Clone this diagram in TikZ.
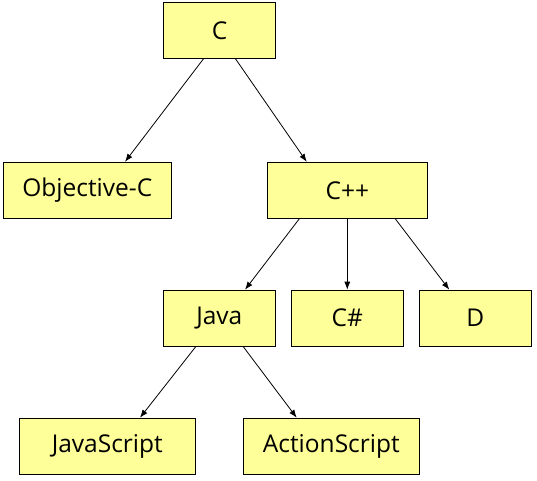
\documentclass[tikz,border=0pt]{standalone}
\usepackage{fontspec}
\setmainfont{Open Sans}
\usetikzlibrary{arrows.meta}
\begin{document}
\begin{tikzpicture}[x=1pt,y=-1pt,
  box/.style={draw=black,line width=1pt,fill=boxfill,minimum height=56pt,inner sep=0pt,font=\fontsize{24.5}{28}\selectfont},
  arr/.style={line width=0.8pt,-{Latex[length=8pt,width=6pt]}}]
\definecolor{boxfill}{HTML}{FFFF99}
\useasboundingbox (0,0) rectangle (537,480);
\node[box,minimum width=112pt] (c) at (219.5,30.3) {C};
\node[box,minimum width=168pt] (objc) at (87.3,190.3) {Objective-C};
\node[box,minimum width=160pt] (cpp) at (347.3,190.3) {C++};
\node[box,minimum width=112pt] (java) at (219.3,318.2) {Java};
\node[box,minimum width=112pt] (cs) at (347.3,318.2) {C\#};
\node[box,minimum width=112pt] (d) at (475.3,318.2) {D};
\node[box,minimum width=176pt] (js) at (107.3,446.2) {JavaScript};
\node[box,minimum width=176pt] (as) at (331.3,446.2) {ActionScript};
\draw[arr] ([xshift=-16pt]c.south) -- ([xshift=37.7pt]objc.north);
\draw[arr] ([xshift=16pt]c.south) -- ([xshift=-40.6pt]cpp.north);
\draw[arr] ([xshift=-48pt]cpp.south) -- ([xshift=25.7pt]java.north);
\draw[arr] (cpp.south) -- (cs.north);
\draw[arr] ([xshift=48pt]cpp.south) -- ([xshift=-26pt]d.north);
\draw[arr] ([xshift=-23.6pt]java.south) -- ([xshift=32.7pt]js.north);
\draw[arr] ([xshift=24pt]java.south) -- ([xshift=-34.6pt]as.north);
\end{tikzpicture}
\end{document}
